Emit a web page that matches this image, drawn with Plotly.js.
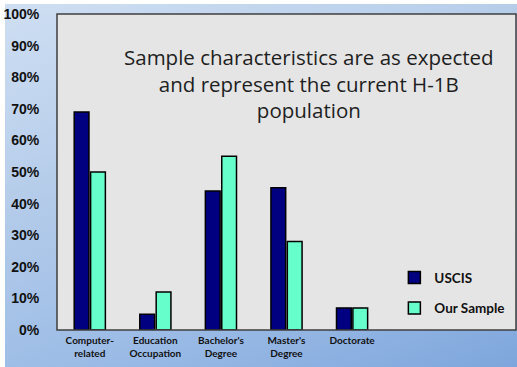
<!DOCTYPE html>
<html>
<head>
<meta charset="utf-8">
<script src="https://cdn.plot.ly/plotly-3.0.1.min.js"></script>
<style>
  html, body { margin: 0; padding: 0; background: #ffffff; }
  #wrap {
    position: absolute; left: 0; top: 0; width: 517px; height: 367px;
    overflow: hidden;
  }
  #bg {
    position: absolute; left: 5px; top: 4px; right: 0; bottom: 0;
    background: linear-gradient(160deg, #cfdff3 0%, #b6cdea 35%, #9cbce6 70%, #7ea6dc 100%);
  }
  #chart { position: absolute; left: 0; top: 0; width: 517px; height: 367px; }
</style>
</head>
<body>
<div id="wrap">
  <div id="bg"></div>
  <div id="chart"></div>
</div>
<script>
// Category labels (two empty slots on the right leave room for the legend)
const categories = [
  'Computer-<br>related',
  'Education<br>Occupation',
  "Bachelor's<br>Degree",
  "Master's<br>Degree",
  'Doctorate'
];
const uscisValues = [69, 5, 44, 45, 7];
const sampleValues = [50, 12, 55, 28, 7];
const yTickValues = [0, 10, 20, 30, 40, 50, 60, 70, 80, 90, 100];
const yTickLabels = ['0%', '10%', '20%', '30%', '40%', '50%', '60%', '70%', '80%', '90%', '100%'];
const seriesNames = ['USCIS', 'Our Sample'];
const titleLines = [
  'Sample characteristics are as expected',
  'and represent the current H-1B',
  'population'
];

const traces = [
  {
    type: 'bar', name: seriesNames[0], x: categories, y: uscisValues,
    legend: 'legend',
    marker: { color: '#000080', line: { color: '#000000', width: 1.5 } }
  },
  {
    type: 'bar', name: seriesNames[1], x: categories, y: sampleValues,
    legend: 'legend2',
    marker: { color: '#66ffcc', line: { color: '#000000', width: 1.5 } }
  }
];

const legendFont = { family: 'Lato, sans-serif', size: 13.5, color: '#111111', weight: 'bold' };

const layout = {
  width: 517, height: 367,
  paper_bgcolor: 'rgba(0,0,0,0)',
  plot_bgcolor: '#e5e5e5',
  margin: { l: 57, r: 1, t: 14, b: 37, pad: 0 },
  barmode: 'group',
  bargap: 0.5,
  bargroupgap: 0.1,
  showlegend: true,
  legend: {
    x: 0.735, y: 0.1655, xanchor: 'left', yanchor: 'middle',
    bgcolor: 'rgba(0,0,0,0)', font: legendFont
  },
  legend2: {
    x: 0.735, y: 0.0687, xanchor: 'left', yanchor: 'middle',
    bgcolor: 'rgba(0,0,0,0)', font: legendFont
  },
  xaxis: {
    type: 'category',
    range: [-0.5, 6.5],
    showgrid: false, zeroline: false,
    showline: false,
    ticks: '',
    ticklabelstandoff: 3,
    tickfont: { family: 'Lato, sans-serif', size: 10, color: '#111111', weight: 'bold' },
    fixedrange: true
  },
  yaxis: {
    range: [0, 100],
    tickvals: yTickValues,
    ticktext: yTickLabels,
    showgrid: false, zeroline: false, showline: false,
    ticks: 'outside', ticklen: 14, tickcolor: 'rgba(0,0,0,0)',
    tickfont: { family: 'Liberation Sans, Arial, sans-serif', size: 14, color: '#111111', weight: 'bold' },
    fixedrange: true
  },
  shapes: [
    {
      type: 'rect', xref: 'paper', yref: 'paper', x0: 0, x1: 1, y0: 0, y1: 1,
      line: { color: '#3f3f3f', width: 1.5 }, fillcolor: 'rgba(0,0,0,0)'
    }
  ],
  annotations: [
    {
      text: titleLines.join('<br>'), xref: 'paper', yref: 'paper',
      x: 0.549, y: 0.78, xanchor: 'center', yanchor: 'middle',
      showarrow: false, align: 'center',
      font: { family: 'Open Sans, sans-serif', size: 20.5, color: '#1e1e1e' }
    }
  ]
};

Plotly.newPlot('chart', traces, layout, { displayModeBar: false, staticPlot: true });
</script>
</body>
</html>
